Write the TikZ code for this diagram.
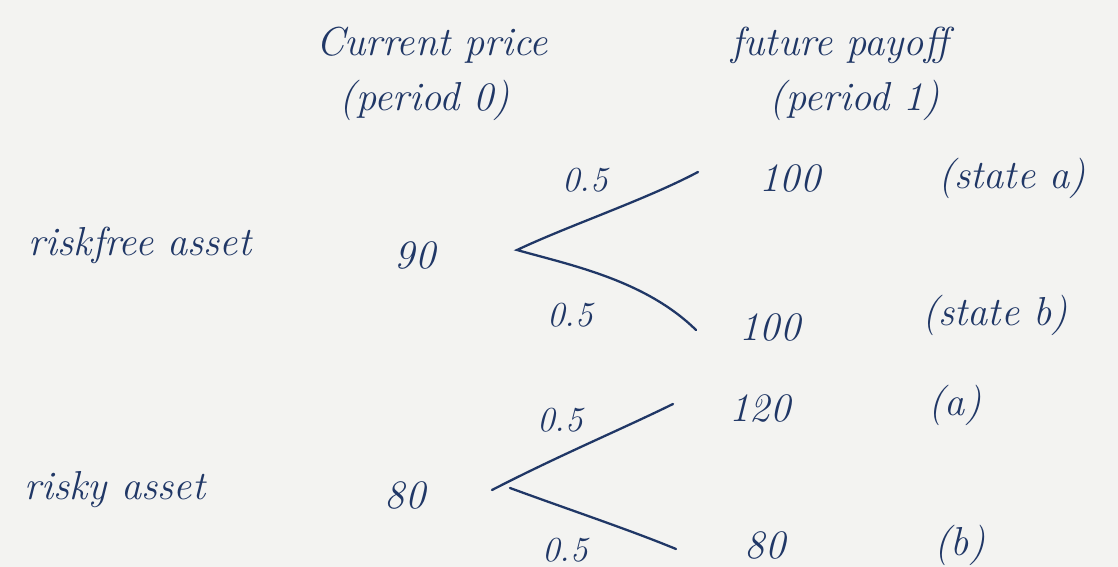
\documentclass[tikz,border=0pt]{standalone}
\usepackage{fontspec}
\usetikzlibrary{arrows.meta}
\definecolor{ink}{RGB}{32,55,102}
\definecolor{paper}{RGB}{243,243,241}

\begin{document}
\begin{tikzpicture}[
    x=0.2mm, y=-0.2mm,
    every node/.style={font=\itshape\fontsize{23}{27}\selectfont, text=ink},
    % 表头
    head/.style={anchor=center},
    % 价格与收益
    val/.style={anchor=center},
    % 概率
    prob/.style={font=\itshape\fontsize{20}{24}\selectfont},
    % 分支线
    branch/.style={-, ink, line width=1.3pt, line cap=round},
]

\fill[paper] (0,0) rectangle (1118,567);
\useasboundingbox (0,0) rectangle (1118,567);

%% ── 表头 ─────────────────────────────────────────────
\node[head] (cur)  at (432, 45)  {Current price};
\node[head] (curp) at (425, 100) {(period 0)};
\node[head] (fut)  at (840, 45)  {future payoff};
\node[head] (futp) at (855, 100) {(period 1)};

%% ── 无风险资产 ───────────────────────────────────────
\node[val] (rf)   at (140, 245) {riskfree asset};
\node[val] (rfp)  at (415, 255) {90};
\node[val] (rfa)  at (790, 178) {100};
\node[val] (rfsa) at (1012, 178) {(state a)};
\node[val] (rfb)  at (770, 327) {100};
\node[val] (rfsb) at (995, 315) {(state b)};
\node[prob] (pa1) at (585, 180) {0.5};
\node[prob] (pb1) at (570, 315) {0.5};

%% ── 风险资产 ─────────────────────────────────────────
\node[val] (ra)   at (115, 490) {risky asset};
\node[val] (rp)   at (405, 495) {80};
\node[val] (raa)  at (760, 408) {120};
\node[val] (rasa) at (955, 405) {(a)};
\node[val] (rab)  at (765, 545) {80};
\node[val] (rasb) at (960, 545) {(b)};
\node[prob] (pa2) at (560, 420) {0.5};
\node[prob] (pb2) at (565, 550) {0.5};

%% ── 分支线 ───────────────────────────────────────────
\coordinate (r0) at (517, 250);
\coordinate (r1) at (698, 172);
\coordinate (r2) at (696, 330);
\coordinate (k0) at (492, 490);
\coordinate (k1) at (673, 404);
\coordinate (k2) at (676, 549);
\coordinate (k3) at (510, 488);

\draw[branch] (r1) .. controls (645, 200) and (570, 225) .. (r0)
              .. controls (570, 265) and (645, 280) .. (r2);
\draw[branch] (k0) .. controls (560, 455) and (620, 430) .. (k1);
\draw[branch] (k3) .. controls (570, 510) and (630, 530) .. (k2);

\end{tikzpicture}
\end{document}
